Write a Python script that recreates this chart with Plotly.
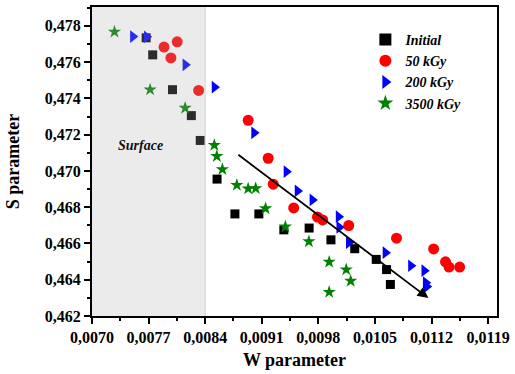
import plotly.graph_objects as go

# ---- data ----
w_initial = [0.00767, 0.007751, 0.007996, 0.008229, 0.008339, 0.008547, 0.008768, 0.009064,
             0.009373, 0.009686, 0.009956, 0.01025, 0.010516, 0.010644, 0.010691]
s_initial = [0.47734, 0.47640, 0.47448, 0.47305, 0.47168, 0.46955, 0.46763, 0.46763,
             0.46675, 0.46685, 0.46620, 0.46571, 0.46512, 0.46456, 0.46374]

w_50 = [0.007891, 0.008054, 0.007976, 0.008319, 0.008932, 0.00918, 0.009242, 0.009495,
        0.009789, 0.009854, 0.010176, 0.010767, 0.011226, 0.011373, 0.011416, 0.011548]
s_50 = [0.47683, 0.47712, 0.47623, 0.47444, 0.47279, 0.47070, 0.46927, 0.46796,
        0.46746, 0.46730, 0.46699, 0.46629, 0.46570, 0.46499, 0.46470, 0.46470]

w_200 = [0.007506, 0.007677, 0.008155, 0.008515, 0.009005, 0.009405, 0.009542, 0.009726,
         0.01005, 0.010059, 0.010176, 0.01063, 0.010945, 0.01111, 0.011128, 0.011141]
s_200 = [0.47741, 0.47740, 0.47585, 0.47462, 0.47210, 0.46996, 0.46890, 0.46840,
         0.46748, 0.46689, 0.46604, 0.46549, 0.46477, 0.46450, 0.46384, 0.46362]

w_3500 = [0.007278, 0.007719, 0.008152, 0.008513, 0.008544, 0.008613, 0.008792, 0.008932,
          0.009025, 0.009147, 0.009392, 0.009683, 0.009934, 0.010145, 0.0102, 0.009934]
s_3500 = [0.47767, 0.47448, 0.47347, 0.47142, 0.47081, 0.47009, 0.46922, 0.46902,
          0.46904, 0.46793, 0.46692, 0.46611, 0.46498, 0.46456, 0.46393, 0.46332]

arrow_w = [0.008792, 0.011161]
arrow_s = [0.47095, 0.46299]

surface_w = [0.0070, 0.0084]
surface_label_pos = [0.007594, 0.47142]

x_range = [0.0070, 0.01201]
y_range = [0.462, 0.47904]

FONT = "Liberation Serif"

fig = go.Figure()

series = [
    ("Initial", w_initial, s_initial, "square", "#000000", 9),
    ("50 kGy", w_50, s_50, "circle", "#ff0000", 11),
    ("200 kGy", w_200, s_200, "triangle-right", "#0000ff", 11),
    ("3500 kGy", w_3500, s_3500, "star", "#008000", 10),
]
for name, xs, ys, sym, col, sz in series:
    fig.add_trace(go.Scatter(
        x=xs, y=ys, mode="markers", name=name,
        marker=dict(symbol=sym, color=col, size=sz, line=dict(width=0)),
    ))

# shaded "surface" region drawn above the markers, semi-transparent
fig.add_shape(type="rect", xref="x", yref="paper",
              x0=surface_w[0], x1=surface_w[1], y0=0, y1=1,
              fillcolor="rgb(175,175,175)", opacity=0.25, layer="above",
              line=dict(width=0))
fig.add_shape(type="line", xref="x", yref="paper",
              x0=surface_w[1], x1=surface_w[1], y0=0, y1=1,
              line=dict(color="#d0d0d0", width=1), layer="above")

fig.add_annotation(x=surface_label_pos[0], y=surface_label_pos[1], xref="x", yref="y",
                   text="<b><i>Surface</i></b>", showarrow=False,
                   font=dict(family=FONT, size=14, color="#111"))

fig.add_annotation(x=arrow_w[1], y=arrow_s[1], ax=arrow_w[0], ay=arrow_s[0],
                   xref="x", yref="y", axref="x", ayref="y", text="",
                   showarrow=True, arrowhead=2, arrowsize=1.2, arrowwidth=1.8,
                   arrowcolor="black")

axis_common = dict(
    showline=True, linecolor="black", linewidth=2, mirror=True,
    ticks="outside", ticklen=6, tickwidth=1.5, tickcolor="black",
    showgrid=False, zeroline=False,
    tickfont=dict(family=FONT, size=16, color="black", weight="bold"),
)

fig.update_xaxes(
    range=x_range, tick0=0.0070, dtick=0.0007, tickformat=".4f",
    minor=dict(ticks="outside", ticklen=3, tickwidth=1.5, tickcolor="black", dtick=0.00035),
    title=dict(text="<b>W parameter</b>", font=dict(family=FONT, size=18, color="black"), standoff=8),
    **axis_common,
)
fig.update_yaxes(
    range=y_range, tick0=0.462, dtick=0.002, tickformat=".3f",
    minor=dict(ticks="outside", ticklen=3, tickwidth=1.5, tickcolor="black", dtick=0.001),
    title=dict(text="<b>S parameter</b>", font=dict(family=FONT, size=18, color="black"), standoff=20),
    **axis_common,
)

fig.update_layout(
    width=515, height=374,
    margin=dict(l=92, r=13, t=5, b=58),
    paper_bgcolor="white", plot_bgcolor="white",
    separators=",.",
    showlegend=True,
    legend=dict(x=0.675, y=0.945, xanchor="left", yanchor="top",
                bgcolor="rgba(0,0,0,0)", tracegroupgap=0,
                font=dict(family=FONT, size=14, color="black", weight="bold", style="italic"),
                itemsizing="constant"),
)

fig.write_html("out.html")
